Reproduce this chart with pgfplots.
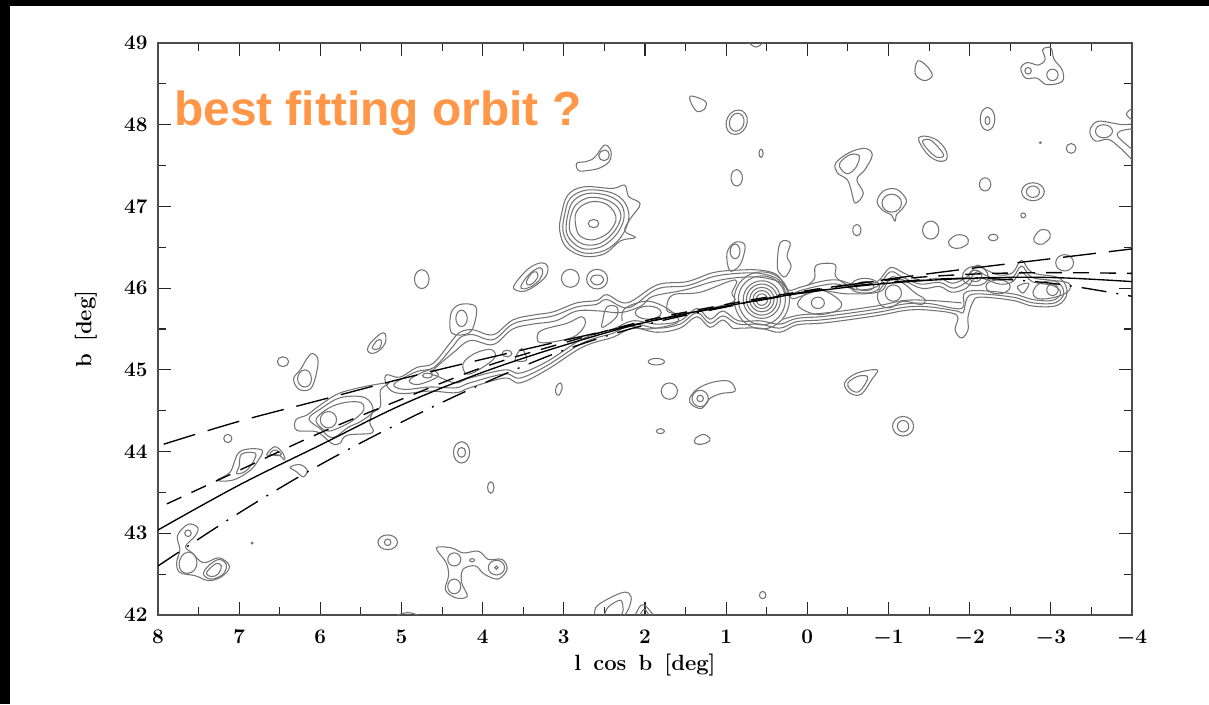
\documentclass[border=0pt]{standalone}
\usepackage{fontspec}
\usepackage{pgfplots}
\pgfplotsset{compat=1.18}
\newfontfamily\arialb{Liberation Sans}[Scale=1.0]
\definecolor{orng}{RGB}{255,150,72}
\definecolor{ctr}{gray}{0.45}
\begin{document}
\begin{tikzpicture}[x=1pt,y=1pt]
\path (0,0) rectangle (1209,704);
\fill[black] (0,697.5) rectangle (1209,704);
\fill[black] (0,0) rectangle (9.5,704);
\begin{axis}[
  at={(158pt,89pt)},anchor=south west,
  scale only axis,width=974pt,height=572pt,
  x dir=reverse,xmin=-4,xmax=8,ymin=42,ymax=49,
  xtick={-4,-3,-2,-1,0,1,2,3,4,5,6,7,8},
  ytick={42,43,44,45,46,47,48,49},
  minor x tick num=1,minor y tick num=1,
  tick align=inside,
  major tick length=13pt,minor tick length=8pt,
  axis line style={line width=1.3pt,black!70},
  every tick/.style={line width=1.1pt,black!85},
  tick label style={font=\fontsize{20}{20}\selectfont\boldmath},
  xticklabel style={yshift=-12pt},
  yticklabel style={xshift=-7pt},
  xlabel={l\hspace{.55em}cos\hspace{.55em}b\hspace{.55em}[deg]},
  ylabel={b\hspace{.55em}[deg]},
  every axis x label/.style={at={(axis description cs:0.5,0)},anchor=center,yshift=-50pt,font=\fontsize{22}{22}\selectfont\bfseries},
  every axis y label/.style={at={(axis description cs:0,0.5)},rotate=90,anchor=center,yshift=72pt,font=\fontsize{22}{22}\selectfont\bfseries},
  c/.style={no marks,smooth cycle,tension=.6,line width=1.05pt,color=ctr},
  e/.style={no marks,smooth cycle,tension=1,line width=1.05pt,color=ctr},
  o/.style={no marks,smooth,tension=.6,line width=1.05pt,color=ctr},
  orbit/.style={no marks,smooth,tension=.6,line width=1.35pt,color=black},
]
% isolated upper blobs
\addplot[c] coordinates {(1.44,48.35)(1.26,48.29)(1.26,48.2)(1.35,48.16)(1.42,48.24)};
\addplot[e] coordinates {(.74,48.03)(.85,48.18)(1,48.03)(.89,47.88)};
\addplot[e] coordinates {(.78,48.03)(.86,48.14)(.96,48.03)(.88,47.92)};
\addplot[e] coordinates {(.545,47.65)(.57,47.7)(.595,47.65)(.57,47.6)};
\addplot[e] coordinates {(.8,47.35)(.87,47.45)(.94,47.35)(.87,47.25)};
\addplot[c] coordinates {(-.35,47.53)(-.52,47.66)(-.71,47.71)(-.8,47.63)(-.71,47.45)(-.61,47.33)(-.69,47.16)(-.59,47.04)(-.54,47.2)(-.49,47.33)(-.37,47.41)};
\addplot[c] coordinates {(-.4,47.53)(-.52,47.63)(-.64,47.62)(-.6,47.48)(-.5,47.4)(-.42,47.45)};
\addplot[e] coordinates {(-.56,46.71)(-.61,46.78)(-.66,46.71)(-.61,46.64)};
\addplot[c] coordinates {(-.86,47.06)(-.94,47.19)(-1.1,47.21)(-1.22,47.08)(-1.17,46.97)(-1.1,46.9)(-1.08,46.82)(-1.03,46.9)(-.93,46.95)};
\addplot[e] coordinates {(-.92,47.04)(-1.04,47.15)(-1.16,47.04)(-1.04,46.93)};
\addplot[e] coordinates {(-1.42,46.71)(-1.52,46.82)(-1.62,46.71)(-1.52,46.6)};
\addplot[c] coordinates {(-1.74,46.57)(-1.84,46.65)(-1.96,46.63)(-1.98,46.55)(-1.88,46.49)(-1.78,46.5)};
\addplot[e] coordinates {(-2.23,46.62)(-2.29,46.66)(-2.35,46.62)(-2.29,46.58)};
\addplot[c] coordinates {(-2.79,46.61)(-2.87,46.71)(-2.97,46.7)(-2.99,46.62)(-2.9,46.54)(-2.82,46.55)};
\addplot[e] coordinates {(-2.12,47.27)(-2.19,47.35)(-2.26,47.27)(-2.19,47.19)};
\addplot[e] coordinates {(-2.64,47.18)(-2.78,47.29)(-2.92,47.18)(-2.78,47.07)};
\addplot[e] coordinates {(-2.7,47.18)(-2.78,47.25)(-2.86,47.18)(-2.78,47.11)};
\addplot[e] coordinates {(-2.63,46.89)(-2.66,46.92)(-2.69,46.89)(-2.66,46.86)};
\addplot[c] coordinates {(-1.37,47.82)(-1.45,47.86)(-1.6,47.81)(-1.71,47.68)(-1.71,47.57)(-1.6,47.56)(-1.47,47.65)};
\addplot[c] coordinates {(-1.42,47.8)(-1.5,47.82)(-1.58,47.76)(-1.68,47.63)(-1.6,47.6)(-1.48,47.7)};
\addplot[e] coordinates {(-2.13,48.07)(-2.22,48.21)(-2.31,48.07)(-2.22,47.93)};
\addplot[e] coordinates {(-2.19,48.05)(-2.22,48.1)(-2.25,48.05)(-2.22,48)};
\addplot[c] coordinates {(-1.36,48.78)(-1.47,48.72)(-1.54,48.6)(-1.44,48.54)(-1.33,48.62)};
\addplot[c] coordinates {(-2.63,48.69)(-2.71,48.76)(-2.85,48.73)(-2.93,48.8)(-2.9,48.92)(-3.0,48.94)(-3.04,48.8)(-3.14,48.67)(-3.14,48.53)(-2.95,48.49)(-2.83,48.57)(-2.69,48.57)};
\addplot[e] coordinates {(-2.68,48.66)(-2.72,48.7)(-2.76,48.66)(-2.72,48.62)};
\addplot[e] coordinates {(-2.95,48.61)(-3.02,48.68)(-3.09,48.61)(-3.02,48.54)};
\addplot[o] coordinates {(-4,48.01)(-3.88,48.0)(-3.76,48.02)(-3.57,48.04)(-3.48,47.92)(-3.55,47.8)(-3.71,47.82)(-3.86,47.71)(-4,47.57)};
\addplot[e] coordinates {(-3.55,47.92)(-3.65,48)(-3.76,47.92)(-3.65,47.84)};
\addplot[o] coordinates {(-4,47.95)(-3.85,47.92)(-3.83,47.85)(-4,47.7)};
\addplot[o] coordinates {(-4,48.2)(-3.93,48.13)(-4,48.06)};
\addplot[e] coordinates {(-3.19,47.71)(-3.25,47.77)(-3.31,47.71)(-3.25,47.65)};
\addplot[e] coordinates {(-2.86,47.78)(-2.87,47.79)(-2.88,47.78)(-2.87,47.77)};
\addplot[o] coordinates {(.72,49)(.63,48.95)(.55,49)};
% big source
\addplot[c] coordinates {(3.03,46.9)(2.95,47.14)(2.75,47.24)(2.4,47.22)(2.25,47.26)(2.2,47.12)(2.06,47.03)(2.18,46.85)(2.25,46.7)(2.12,46.62)(2.3,46.58)(2.5,46.42)(2.75,46.39)(2.97,46.5)(3.05,46.7)};
\addplot[c] coordinates {(2.99,46.9)(2.92,47.1)(2.72,47.2)(2.42,47.17)(2.25,47.05)(2.2,46.85)(2.3,46.62)(2.5,46.46)(2.75,46.43)(2.93,46.53)(3.01,46.7)};
\addplot[c] coordinates {(2.95,46.9)(2.88,47.07)(2.7,47.16)(2.45,47.13)(2.29,47.02)(2.26,46.85)(2.35,46.66)(2.53,46.51)(2.75,46.48)(2.9,46.57)(2.97,46.7)};
\addplot[c] coordinates {(2.91,46.9)(2.84,47.03)(2.68,47.11)(2.47,47.08)(2.33,46.98)(2.3,46.85)(2.39,46.68)(2.55,46.55)(2.73,46.53)(2.86,46.6)(2.93,46.72)};
\addplot[c] coordinates {(2.86,46.88)(2.79,47)(2.64,47.06)(2.48,47.03)(2.38,46.93)(2.36,46.82)(2.45,46.68)(2.6,46.6)(2.73,46.6)(2.83,46.68)};
\addplot[e] coordinates {(2.57,46.79)(2.63,46.84)(2.7,46.79)(2.63,46.74)};
\addplot[c] coordinates {(2.84,47.53)(2.72,47.55)(2.62,47.6)(2.5,47.75)(2.42,47.68)(2.44,47.55)(2.56,47.47)(2.7,47.44)(2.82,47.44)};
\addplot[e] coordinates {(2.44,47.63)(2.5,47.69)(2.57,47.62)(2.5,47.56)};
% mid blobs
\addplot[e] coordinates {(4.66,46.11)(4.75,46.225)(4.84,46.11)(4.75,45.995)};
\addplot[c] coordinates {(3.62,46)(3.55,46.12)(3.42,46.25)(3.28,46.31)(3.2,46.27)(3.22,46.15)(3.35,46.03)(3.5,45.96)};
\addplot[c] coordinates {(3.53,46.02)(3.47,46.12)(3.38,46.21)(3.29,46.25)(3.26,46.2)(3.3,46.1)(3.4,46.02)(3.5,45.99)};
\addplot[c] coordinates {(3.46,46.08)(3.4,46.18)(3.34,46.2)(3.32,46.14)(3.38,46.06)(3.44,46.04)};
\addplot[e] coordinates {(2.81,46.12)(2.92,46.23)(3.03,46.12)(2.92,46.01)};
\addplot[e] coordinates {(2.46,46.11)(2.59,46.23)(2.72,46.11)(2.59,45.99)};
\addplot[e] coordinates {(2.51,46.11)(2.59,46.16)(2.67,46.11)(2.59,46.04)};
\addplot[e] coordinates {(6.39,45.1)(6.46,45.16)(6.53,45.1)(6.46,45.04)};
\addplot[c] coordinates {(6.03,45.13)(6.1,45.2)(6.17,45.13)(6.24,45.01)(6.33,44.89)(6.26,44.76)(6.12,44.77)(6.05,44.95)};
\addplot[e] coordinates {(6.11,44.89)(6.19,45)(6.28,44.89)(6.19,44.79)};
\addplot[c] coordinates {(5.42,45.24)(5.38,45.33)(5.26,45.44)(5.2,45.44)(5.2,45.33)(5.27,45.24)(5.36,45.2)};
\addplot[c] coordinates {(5.36,45.27)(5.3,45.36)(5.25,45.36)(5.26,45.28)(5.31,45.25)};
\addplot[e] coordinates {(7.09,44.16)(7.14,44.21)(7.19,44.16)(7.14,44.11)};
\addplot[e] coordinates {(4.16,43.99)(4.26,44.12)(4.36,43.99)(4.26,43.86)};
\addplot[e] coordinates {(4.21,43.99)(4.26,44.05)(4.31,43.99)(4.26,43.93)};
\addplot[e] coordinates {(3.86,43.56)(3.9,43.63)(3.94,43.56)(3.9,43.49)};
\addplot[c] coordinates {(3.02,44.78)(3.04,44.84)(3.09,44.8)(3.1,44.72)(3.06,44.69)};
\addplot[e] coordinates {(5.05,42.89)(5.17,42.98)(5.29,42.89)(5.17,42.8)};
\addplot[e] coordinates {(5.13,42.89)(5.17,42.93)(5.21,42.89)(5.17,42.85)};
\addplot[e] coordinates {(6.83,42.88)(6.84,42.89)(6.85,42.88)(6.84,42.87)};
% lower left group
\addplot[c] coordinates {(7.63,43.11)(7.51,43.07)(7.54,42.97)(7.66,42.84)(7.58,42.76)(7.44,42.64)(7.25,42.7)(7.12,42.6)(7.2,42.48)(7.37,42.42)(7.54,42.48)(7.73,42.52)(7.77,42.64)(7.73,42.8)(7.76,42.97)};
\addplot[e] coordinates {(7.59,43)(7.63,43.04)(7.67,43)(7.63,42.96)};
\addplot[e] coordinates {(7.52,42.64)(7.63,42.77)(7.74,42.62)(7.63,42.51)};
\addplot[c] coordinates {(7.16,42.62)(7.25,42.68)(7.38,42.6)(7.44,42.5)(7.36,42.44)(7.26,42.46)(7.18,42.52)};
\addplot[c] coordinates {(7.22,42.6)(7.28,42.63)(7.38,42.55)(7.4,42.5)(7.34,42.47)(7.26,42.5)};
% lower middle group
\addplot[c] coordinates {(4.57,42.82)(4.38,42.82)(4.24,42.76)(4.05,42.78)(3.93,42.68)(3.76,42.68)(3.7,42.56)(3.81,42.44)(3.98,42.5)(4.09,42.6)(4.24,42.56)(4.26,42.4)(4.19,42.23)(4.33,42.21)(4.46,42.31)(4.42,42.48)(4.45,42.64)};
\addplot[e] coordinates {(4.27,42.68)(4.35,42.76)(4.43,42.68)(4.35,42.6)};
\addplot[e] coordinates {(3.73,42.58)(3.83,42.67)(3.93,42.58)(3.83,42.49)};
\addplot[e] coordinates {(4.27,42.35)(4.35,42.44)(4.43,42.35)(4.35,42.26)};
\addplot[e] coordinates {(4.1,42.67)(4.13,42.69)(4.16,42.67)(4.13,42.65)};
\addplot[e] coordinates {(3.81,42.58)(3.83,42.6)(3.85,42.58)(3.83,42.56)};
\addplot[o] coordinates {(5.05,42)(4.92,42.03)(4.8,42)};
\addplot[o] coordinates {(2.62,42)(2.6,42.1)(2.45,42.2)(2.25,42.28)(2.17,42.22)(2.2,42.08)(2.25,42)};
\addplot[o] coordinates {(2.5,42)(2.45,42.1)(2.3,42.18)(2.27,42.05)(2.3,42)};
\addplot[o] coordinates {(2.12,42)(2.05,42.12)(1.98,42.1)(1.9,42)};
\addplot[o] coordinates {(2.06,42)(2.01,42.07)(1.95,42)};
% lower right
\addplot[e] coordinates {(1.76,45.1)(1.86,45.14)(1.96,45.1)(1.86,45.06)};
\addplot[e] coordinates {(1.6,44.74)(1.7,44.84)(1.8,44.74)(1.7,44.64)};
\addplot[c] coordinates {(1.45,44.65)(1.35,44.77)(1.16,44.85)(.96,44.86)(.89,44.74)(1.06,44.71)(1.2,44.65)(1.3,44.53)(1.42,44.57)};
\addplot[e] coordinates {(1.22,44.65)(1.32,44.75)(1.42,44.65)(1.32,44.55)};
\addplot[e] coordinates {(1.28,44.65)(1.32,44.69)(1.36,44.65)(1.32,44.61)};
\addplot[e] coordinates {(1.76,44.25)(1.81,44.28)(1.86,44.25)(1.81,44.22)};
\addplot[c] coordinates {(1.2,44.16)(1.28,44.21)(1.38,44.16)(1.38,44.1)(1.3,44.09)(1.22,44.12)};
\addplot[e] coordinates {(.51,42.24)(.55,42.29)(.59,42.24)(.55,42.2)};
\addplot[c] coordinates {(-.46,44.84)(-.61,44.96)(-.86,45)(-.8,44.89)(-.66,44.7)(-.52,44.72)};
\addplot[c] coordinates {(-.5,44.84)(-.62,44.92)(-.74,44.92)(-.72,44.84)(-.63,44.73)(-.53,44.76)};
\addplot[e] coordinates {(-1.05,44.31)(-1.18,44.43)(-1.31,44.31)(-1.18,44.19)};
\addplot[e] coordinates {(-1.11,44.31)(-1.18,44.38)(-1.25,44.31)(-1.18,44.24)};
% left features below the stream
\addplot[c] coordinates {(7.27,43.65)(7.11,43.75)(6.99,44)(6.72,44.02)(6.78,43.87)(6.89,43.75)(7.08,43.65)};
\addplot[c] coordinates {(7,43.82)(6.97,43.97)(6.8,43.98)(6.83,43.87)(6.92,43.76)(7.03,43.73)};
\addplot[c] coordinates {(6.66,43.96)(6.56,44.06)(6.46,43.98)(6.44,43.9)(6.52,43.96)};
\addplot[c] coordinates {(6.62,43.97)(6.56,44.02)(6.48,43.97)(6.52,43.95)};
\addplot[c] coordinates {(6.37,43.81)(6.25,43.84)(6.16,43.77)(6.21,43.69)(6.29,43.75)};
% stream contour family
\addplot[c] coordinates {(6.3,44.39)(6.29,44.26)(6.04,44.24)(5.86,44.1)(5.76,44.1)(5.67,44.2)(5.36,44.23)(5.39,44.35)(5.36,44.47)(5.26,44.55)(5.26,44.75)(5.18,44.84)(5.72,44.73)(6,44.57)(6.16,44.45)};
\addplot[c] coordinates {(6.14,44.4)(6,44.52)(5.75,44.66)(5.45,44.66)(5.35,44.5)(5.5,44.37)(5.65,44.3)(5.85,44.17)(6,44.28)};
\addplot[c] coordinates {(6.05,44.4)(5.9,44.53)(5.7,44.6)(5.5,44.6)(5.47,44.5)(5.6,44.38)(5.75,44.3)(5.9,44.25)(6,44.3)};
\addplot[e] coordinates {(5.8,44.39)(5.9,44.49)(6,44.39)(5.9,44.29)};
\addplot[c] coordinates {(5.18,44.94)(5.02,44.91)(4.81,45.03)(4.61,45.08)(4.4,45.33)(4.28,45.46)(4.12,45.49)(3.87,45.43)(3.63,45.61)(3.38,45.67)(3.13,45.71)(2.84,45.82)(2.59,45.85)(2.47,45.92)(2.22,45.82)(1.85,46.04)(1.48,46.08)(1.16,46.19)(.87,46.22)(.58,46.22)(.37,46.16)(.24,45.98)(.09,46.01)(-.16,46.08)(-.37,46.1)(-.61,46.04)(-.86,46.08)(-1.02,46.25)(-1.18,46.19)(-1.39,46.1)(-1.63,46.12)(-1.79,46.06)(-1.97,46.14)(-2.09,46.28)(-2.21,46.22)(-2.37,46.16)(-2.53,46.19)(-2.64,46.34)(-2.77,46.19)(-3.11,46.12)(-3.2,45.94)(-3.08,45.79)(-2.78,45.78)(-2.53,45.85)(-2.13,45.89)(-2.04,45.83)(-1.98,45.65)(-1.98,45.49)(-1.9,45.39)(-1.82,45.49)(-1.84,45.67)(-1.51,45.73)(-1.23,45.73)(-.9,45.67)(-.49,45.61)(-.16,45.57)(.13,45.55)(.34,45.46)(.58,45.51)(.83,45.51)(.92,45.51)(1.04,45.61)(1.2,45.52)(1.36,45.65)(1.57,45.51)(1.85,45.46)(2.15,45.51)(2.39,45.4)(2.64,45.33)(2.84,45.24)(3.21,45)(3.54,44.84)(3.73,44.9)(4.16,44.78)(4.33,44.72)(4.65,44.74)(4.96,44.71)(5.12,44.74)(5.2,44.85)};
\addplot[c] coordinates {(5.05,44.86)(4.81,44.98)(4.6,45.03)(4.38,45.27)(4.27,45.4)(4.12,45.43)(3.87,45.37)(3.63,45.56)(3.38,45.62)(3.13,45.66)(2.84,45.77)(2.6,45.8)(2.47,45.86)(2.2,45.76)(1.85,45.99)(1.48,46.03)(1.16,46.14)(.87,46.18)(.58,46.18)(.35,46.1)(.24,45.92)(.09,45.97)(-.16,46.03)(-.37,46.05)(-.61,45.98)(-.86,46.02)(-1.02,46.2)(-1.18,46.13)(-1.39,46.05)(-1.63,46.07)(-1.8,46)(-1.97,46.08)(-2.09,46.2)(-2.21,46.15)(-2.37,46.1)(-2.53,46.13)(-2.64,46.27)(-2.77,46.13)(-3.07,46.08)(-3.16,45.94)(-3.05,45.82)(-2.78,45.82)(-2.53,45.89)(-2.1,45.93)(-1.97,45.88)(-1.92,45.7)(-1.84,45.72)(-1.51,45.77)(-1.23,45.77)(-.9,45.71)(-.49,45.65)(-.16,45.61)(.13,45.59)(.34,45.51)(.58,45.56)(.85,45.56)(1.04,45.66)(1.2,45.57)(1.36,45.7)(1.57,45.56)(1.85,45.51)(2.15,45.56)(2.39,45.45)(2.64,45.38)(2.84,45.29)(3.21,45.05)(3.54,44.9)(3.73,44.95)(4.16,44.84)(4.33,44.78)(4.65,44.79)(4.95,44.76)(5.09,44.8)};
\addplot[c] coordinates {(4.62,44.98)(4.35,45.22)(4.15,45.36)(3.87,45.31)(3.63,45.5)(3.38,45.56)(3.1,45.6)(2.84,45.72)(2.55,45.72)(2.3,45.7)(2.05,45.78)(1.9,45.9)(1.5,45.98)(1.16,46.08)(.85,46.13)(.55,46.13)(.3,46.05)(.2,45.88)(.08,45.9)(-.16,45.97)(-.5,45.93)(-.9,45.96)(-1.05,46.14)(-1.4,46)(-1.63,46.02)(-1.78,45.95)(-1.96,46)(-2.09,46.13)(-2.37,46.05)(-2.53,46.08)(-2.64,46.2)(-2.77,46.08)(-3.03,46.03)(-3.12,45.94)(-3.02,45.85)(-2.78,45.86)(-2.53,45.93)(-2.1,45.97)(-1.93,45.93)(-1.9,45.75)(-1.51,45.81)(-1.23,45.81)(-.9,45.75)(-.49,45.69)(-.16,45.65)(.13,45.63)(.34,45.56)(.58,45.6)(.85,45.6)(1.04,45.72)(1.2,45.62)(1.36,45.75)(1.57,45.6)(1.85,45.56)(2.15,45.6)(2.39,45.5)(2.64,45.43)(2.84,45.34)(3.21,45.1)(3.54,44.96)(3.73,45)(4.16,44.9)(4.33,44.84)(4.55,44.92)};
\addplot[o] coordinates {(-1.9,45.82)(-1.5,45.85)(-1.2,45.85)(-.9,45.79)(-.5,45.73)(-.16,45.69)(.1,45.67)(.3,45.62)};
% inner loops
\addplot[c] coordinates {(1.73,45.79)(1.65,45.92)(1.32,45.95)(.89,46.1)(.93,45.94)(.92,45.83)(1.41,45.71)(1.69,45.7)};
\addplot[c] coordinates {(3.33,45.4)(3.26,45.49)(2.96,45.57)(2.78,45.65)(2.74,45.55)(2.89,45.4)(3.26,45.33)};
\addplot[c] coordinates {(2.52,45.61)(2.47,45.77)(2.35,45.77)(2.35,45.65)(2.52,45.52)};
\addplot[e] coordinates {(1.8,45.7)(1.96,45.78)(2.12,45.7)(1.96,45.62)};
\addplot[o] coordinates {(2.28,45.6)(2.25,45.75)(1.96,45.84)(1.68,45.72)(1.6,45.58)(1.96,45.5)(2.2,45.55)};
\addplot[c] coordinates {(4.24,45.08)(4.1,45.2)(3.9,45.25)(3.85,45.15)(4.05,45)(4.2,44.95)};
\addplot[e] coordinates {(3.64,45.2)(3.7,45.24)(3.76,45.2)(3.7,45.16)};
\addplot[c] coordinates {(3.46,45.12)(3.52,45.26)(3.6,45.12)};
\addplot[c] coordinates {(4.9,44.88)(4.65,45)(4.55,44.92)(4.8,44.82)};
\addplot[e] coordinates {(4.62,44.93)(4.68,44.96)(4.74,44.93)(4.68,44.9)};
\addplot[c] coordinates {(4.38,45.45)(4.39,45.69)(4.28,45.8)(4.09,45.78)(4.09,45.61)(4.17,45.45)};
\addplot[e] coordinates {(4.19,45.63)(4.26,45.73)(4.33,45.63)(4.26,45.53)};
% concentric source
\addplot[e] coordinates {(.22,45.86)(.56,46.2)(.9,45.86)(.56,45.5)};
\addplot[e] coordinates {(.27,45.86)(.56,46.15)(.85,45.86)(.56,45.55)};
\addplot[e] coordinates {(.33,45.86)(.56,46.09)(.79,45.86)(.56,45.63)};
\addplot[e] coordinates {(.37,45.86)(.56,46.05)(.75,45.86)(.56,45.67)};
\addplot[e] coordinates {(.41,45.86)(.56,46.01)(.71,45.86)(.56,45.71)};
\addplot[e] coordinates {(.45,45.86)(.56,45.97)(.67,45.86)(.56,45.75)};
\addplot[e] coordinates {(.49,45.86)(.56,45.93)(.63,45.86)(.56,45.79)};
% stems and loops on the stream
\addplot[c] coordinates {(.96,46.22)(.99,46.43)(.89,46.56)(.77,46.53)(.8,46.35)(.87,46.24)};
\addplot[e] coordinates {(.83,46.45)(.89,46.54)(.95,46.45)(.89,46.36)};
\addplot[c] coordinates {(.37,46.27)(.35,46.51)(.3,46.58)(.21,46.55)(.25,46.39)(.2,46.27)(.27,46.14)(.34,46.18)};
\addplot[o] coordinates {(0,46.03)(-.09,46.12)(-.11,46.28)(-.34,46.29)(-.35,46.14)(-.52,46.02)(-.6,45.98)};
\addplot[e] coordinates {(-.05,45.82)(-.13,45.89)(-.21,45.82)(-.13,45.75)};
\addplot[c] coordinates {(.12,45.8)(-.06,45.98)(-.25,45.95)(-.42,45.82)(-.35,45.72)(-.1,45.68)};
\addplot[e] coordinates {(-.53,46.02)(-.71,46.12)(-.89,46.02)(-.71,45.94)};
\addplot[e] coordinates {(-.6,46.02)(-.71,46.08)(-.82,46.02)(-.71,45.97)};
\addplot[e] coordinates {(-.96,45.94)(-1.06,46.04)(-1.16,45.94)(-1.06,45.84)};
\addplot[c] coordinates {(-.87,45.94)(-1.02,46.1)(-1.18,46.06)(-1.33,45.94)(-1.45,45.86)(-1.4,45.8)(-1.18,45.84)(-1.02,45.76)(-.9,45.8)};
\addplot[e] coordinates {(-1.91,46.14)(-2.07,46.27)(-2.23,46.14)(-2.07,46.03)};
\addplot[e] coordinates {(-1.99,46.15)(-2.07,46.22)(-2.15,46.15)(-2.07,46.08)};
\addplot[e] coordinates {(-2.2,46.02)(-2.35,46.1)(-2.5,46.02)(-2.35,45.93)};
\addplot[c] coordinates {(-2.59,46.02)(-2.66,45.94)(-2.73,46.06)};
\addplot[c] coordinates {(-2.78,45.95)(-2.85,46.05)(-3,46.09)(-3.2,46.07)(-3.24,46)(-3.15,45.92)(-2.95,45.87)(-2.82,45.88)};
\addplot[e] coordinates {(-2.95,45.98)(-3.02,46.05)(-3.09,45.98)(-3.02,45.91)};
\addplot[e] coordinates {(-3.06,46.31)(-3.17,46.41)(-3.28,46.31)(-3.17,46.21)};
% orbits
\addplot[orbit] coordinates {(8,43.04)(7,43.59)(6,44.08)(5,44.57)(4,44.97)(3,45.3)(2,45.58)(1,45.78)(0,45.95)(-1,46.06)(-2,46.12)(-3,46.13)(-4,46.08)};
\addplot[orbit,dash pattern=on 33pt off 13pt] coordinates {(7.93,44.09)(7,44.37)(6,44.63)(5,44.89)(4,45.13)(3,45.36)(2,45.58)(1,45.78)(0,45.96)(-1,46.11)(-2,46.24)(-3,46.36)(-4,46.48)};
\addplot[orbit,dash pattern=on 16pt off 11pt] coordinates {(7.89,43.36)(7,43.77)(6,44.23)(5,44.64)(4,45.03)(3,45.33)(2,45.6)(1,45.8)(0,45.97)(-1,46.1)(-2,46.17)(-3,46.19)(-4,46.18)};
\addplot[orbit,dash pattern=on 25pt off 10pt on 2pt off 10pt] coordinates {(8,42.6)(7,43.25)(6,43.84)(5,44.36)(4,44.83)(3,45.24)(2,45.55)(1,45.77)(0,45.95)(-1,46.07)(-2,46.12)(-3,46.06)(-4,45.9)};
\end{axis}
\node[anchor=base west,inner sep=0pt,text=orng,font=\fontsize{47.9}{48}\selectfont\arialb\bfseries] at (174,578) {best fitting orbit ?};
\end{tikzpicture}
\end{document}
